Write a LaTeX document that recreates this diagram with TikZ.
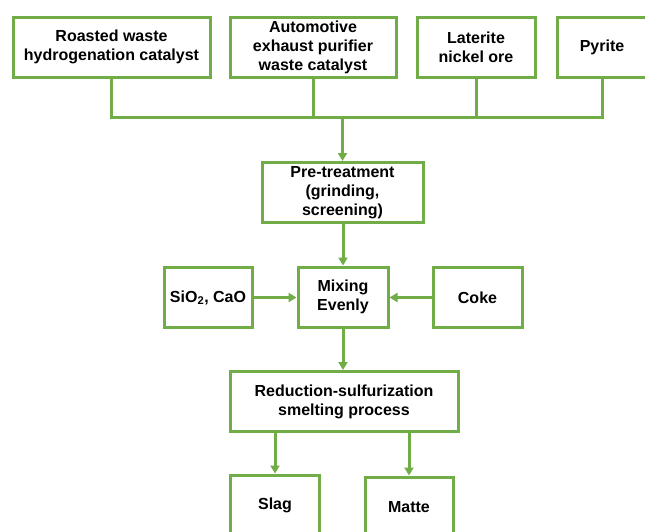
\documentclass[tikz,border=0pt]{standalone}
\usepackage{fontspec}
\setmainfont{Liberation Sans}
\usepackage{tikz}
\usetikzlibrary{arrows.meta}
\definecolor{leafgreen}{RGB}{112,173,71}
\begin{document}
\begin{tikzpicture}[x=1pt, y=-1pt,
        box/.style={draw=leafgreen, line width=3pt, fill=white, align=center,
            minimum height=60pt, inner sep=2pt, font=\fontsize{16}{19}\selectfont\bfseries},
        link/.style={draw=leafgreen, line width=3pt},
        flow/.style={link, -{Triangle[length=8pt,width=9pt]}}]
            \clip (0,0) rectangle (645,531);
            \fill[white] (0,0) rectangle (645,531);
            % raw materials
            \node[box, minimum width=197pt] (roast) at (111.5,47) {Roasted waste\\hydrogenation catalyst};
            \node[box, minimum width=166pt] (auto) at (313,47) {Automotive\\exhaust purifier\\waste catalyst};
            \node[box, minimum width=118pt] (later) at (476,47) {Laterite\\nickel ore};
            \node[box, minimum width=90pt] (pyr) at (602,47) {Pyrite};
            \coordinate (bus) at (0,117);
            \draw[link] (roast.south) -- (roast.south |- bus) -| (pyr.south);
            \draw[link] (auto.south) -- (auto.south |- bus);
            \draw[link] (later.south) -- (later.south |- bus);
            % main line
            \node[box, minimum width=161pt] (pre) at (342.5,192.5) {Pre-treatment\\(grinding,\\screening)};
            \node[box, minimum width=90pt] (mix) at (343,297) {Mixing\\Evenly};
            \node[box, minimum width=88pt] (sio) at (208,297.5) {SiO\textsubscript{2}, CaO};
            \node[box, minimum width=89pt] (coke) at (477.5,297.5) {Coke};
            \node[box, minimum width=228pt] (red) at (344,401.5) {Reduction-sulfurization\\smelting process};
            \node[box, minimum width=89pt] (slag) at (275,505) {Slag};
            \node[box, minimum width=88pt] (matte) at (409,507) {Matte};
            \draw[flow] (pre.north |- bus) -- (pre.north);
            \draw[flow] (pre.south -| mix.north) -- (mix.north);
            \draw[flow] (sio.east) -- (sio.east -| mix.west);
            \draw[flow] (coke.west) -- (coke.west -| mix.east);
            \draw[flow] (mix.south) -- (mix.south |- red.north);
            \draw[flow] (slag.north |- red.south) -- (slag.north);
            \draw[flow] (matte.north |- red.south) -- (matte.north);
        \end{tikzpicture}
\end{document}
